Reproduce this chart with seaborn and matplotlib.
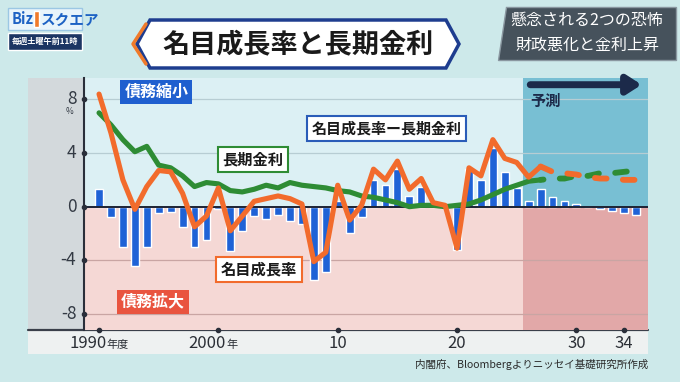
import matplotlib
matplotlib.use("Agg")
import matplotlib.pyplot as plt
import matplotlib.patches as mpatches
import seaborn as sns

# data (fiscal years 1990-2035, %)
years = list(range(1990, 2036))
nominal = [8.4, 5.5, 2.0, -0.2, 1.5, 2.7, 2.6, 1.0, -1.5, -0.7,
           1.4, -1.8, -0.7, 0.4, 0.6, 0.8, 0.6, 0.2, -4.1, -3.4,
           1.6, -1.0, 0.1, 2.8, 2.0, 3.4, 1.3, 2.1, 0.3, 0.1,
           -3.1, 2.9, 2.3, 5.0, 3.6, 3.3, 2.2, 3.0, 2.6, 2.5,
           2.4, 2.2, 2.1, 2.1, 2.0, 2.0]
long_rate = [7.0, 6.1, 5.0, 4.1, 4.5, 3.1, 2.9, 2.3, 1.5, 1.8,
             1.7, 1.2, 1.1, 1.3, 1.6, 1.4, 1.8, 1.6, 1.5, 1.4,
             1.2, 1.1, 0.8, 0.7, 0.5, 0.3, 0.0, 0.1, 0.1, 0.0,
             0.1, 0.2, 0.5, 0.9, 1.3, 1.6, 1.9, 2.0, 2.1, 2.1,
             2.3, 2.3, 2.5, 2.5, 2.6, 2.7]
spread = [1.3, -0.8, -3.0, -4.4, -3.0, -0.5, -0.4, -1.5, -3.0, -2.5,
          -0.2, -3.3, -1.8, -0.7, -0.9, -0.6, -1.1, -1.3, -5.5, -4.9,
          0.4, -2.0, -0.8, 2.0, 1.6, 2.8, 0.8, 1.5, 0.1, -0.1,
          -3.2, 2.8, 2.0, 4.4, 2.6, 1.4, 0.4, 1.3, 0.7, 0.4,
          0.2, 0.0, -0.2, -0.3, -0.5, -0.6]
last_actual = 2027          # solid up to here, dashed afterwards
forecast_start = 2025.5
yticks = [8, 4, 0, -4, -8]
xticks = [1990, 2000, 2010, 2020, 2030, 2034]
xnums = ["1990", "2000", "10", "20", "30", "34"]
xsuffix = ["年度", "年", "", "", "", ""]

sns.set_theme(style="white")
plt.rcParams['font.family'] = ['Noto Sans CJK JP', 'DejaVu Sans']

W, H = 680, 382
fig = plt.figure(figsize=(W / 100, H / 100), dpi=100)
fig.patch.set_facecolor('#cde9ea')

# background layer in pixel coordinates
bg = fig.add_axes([0, 0, 1, 1], zorder=0)
bg.set_xlim(0, W)
bg.set_ylim(H, 0)
bg.axis('off')

# logo
bg.add_patch(mpatches.Rectangle((8, 8), 74, 22, facecolor='#e8f4fb', edgecolor='#9cc7e4', lw=1))
bg.text(12, 19.5, "Biz", color='#1d62c4', fontsize=10.5, fontweight='bold', va='center')
bg.add_patch(mpatches.Rectangle((34, 11), 5, 16, facecolor='#f07a2a'))
bg.text(41, 19.5, "スクエア", color='#1d62c4', fontsize=10.5, fontweight='bold', va='center')
bg.add_patch(mpatches.Rectangle((8, 33), 74, 17, facecolor='#1c3563'))
bg.text(45, 41.5, "毎週土曜午前11時", color='white', fontsize=5.9, fontweight='bold',
        ha='center', va='center')

# title box
title_pts = [(137, 44), (150, 20), (446, 20), (459, 44), (446, 68), (150, 68)]
bg.add_patch(mpatches.Polygon(title_pts, closed=True, facecolor='white',
                              edgecolor='#1e3d8f', lw=2.5))
bg.plot([146, 133, 146], [24, 44, 64], color='#f07a2a', lw=2.5, solid_capstyle='round')
bg.text(298, 44, "名目成長率と長期金利", fontsize=19.5, fontweight='bold',
        color='#1a1a1a', ha='center', va='center')

# top-right box
bg.add_patch(mpatches.Polygon([(506, 7), (676, 7), (676, 60), (498, 60)], closed=True,
                              facecolor='#46525c', edgecolor='#8a97a0', lw=1))
bg.text(587, 20, "懸念される2つの恐怖", fontsize=11.5, color='white', ha='center', va='center')
bg.text(587, 45, "財政悪化と金利上昇", fontsize=11.5, color='white', ha='center', va='center')

# chart panel frame
bg.add_patch(mpatches.Rectangle((28, 78), 56, 252, facecolor='#d3d9dc', lw=0))
bg.add_patch(mpatches.Rectangle((28, 330), 620, 24, facecolor='#eef1f1', lw=0))
bg.plot([28, 648], [330, 330], color='#3a3f4a', lw=1.6)
bg.text(648, 365, "内閣府、Bloombergよりニッセイ基礎研究所作成", fontsize=7.6,
        color='#2b2b2b', ha='right', va='center')

# main chart axes
x0, x1, y0, y1 = 84, 648, 78, 330
ax = fig.add_axes([x0 / W, 1 - y1 / H, (x1 - x0) / W, (y1 - y0) / H], zorder=1)
xmin, xmax = 1988.74, 2036.0
ymin, ymax = -9.2, 9.6
ax.set_xlim(xmin, xmax)
ax.set_ylim(ymin, ymax)

# coloured zones
ax.fill_between([xmin, xmax], 0, ymax, color='#dcf0f4', lw=0, zorder=0)
ax.fill_between([xmin, xmax], ymin, 0, color='#f5d8d5', lw=0, zorder=0)
ax.fill_between([forecast_start, xmax], 0, ymax, color='#78bfd3', lw=0, zorder=0.1)
ax.fill_between([forecast_start, xmax], ymin, 0, color='#e2a8a8', lw=0, zorder=0.1)
for v in [4, 8]:
    ax.axhline(v, color='#b7cdd3', lw=0.9, zorder=0.2)
for v in [-4, -8]:
    ax.axhline(v, color='#c9a5a3', lw=0.9, zorder=0.2)

# bars: nominal growth minus long-term rate
sns.barplot(x=years, y=spread, native_scale=True, width=0.66, color='#1f62d6',
            saturation=1, ax=ax, zorder=2)
ax.axhline(0, color='#1c2233', lw=1.4, zorder=3)

# lines
solid = [i for i, y in enumerate(years) if y <= last_actual]
dash = [i for i, y in enumerate(years) if y >= last_actual]
sns.lineplot(x=[years[i] for i in solid], y=[long_rate[i] for i in solid], color='#2e8c34',
             lw=3.7, solid_capstyle='round', solid_joinstyle='round', ax=ax, zorder=4)
sns.lineplot(x=[years[i] for i in dash], y=[long_rate[i] for i in dash], color='#2e8c34',
             lw=4.2, linestyle=(1.5, (2.0, 2.8)), dash_capstyle='round', ax=ax, zorder=4)
sns.lineplot(x=[years[i] for i in solid], y=[nominal[i] for i in solid], color='#f26b2c',
             lw=3.7, solid_capstyle='round', solid_joinstyle='round', ax=ax, zorder=5)
sns.lineplot(x=[years[i] for i in dash], y=[nominal[i] for i in dash], color='#f26b2c',
             lw=4.2, linestyle=(0, (2.0, 2.8)), dash_capstyle='round', ax=ax, zorder=5)

# axes cosmetics
ax.set_xlabel("")
ax.set_ylabel("")
ax.set_xticks([])
ax.set_yticks([])
for s in ['top', 'right', 'bottom']:
    ax.spines[s].set_visible(False)
ax.spines['left'].set_color('#2a2f3a')
ax.spines['left'].set_linewidth(1.5)

# y tick labels and dots
for v in yticks:
    ax.annotate(str(v), xy=(0, v), xycoords=('axes fraction', 'data'), xytext=(-5.5, 0),
                textcoords='offset points', ha='right', va='center', fontsize=12.5,
                color='#333a44', annotation_clip=False)
ax.scatter([xmin] * len(yticks), yticks, s=9, color='#2a2f3a', clip_on=False, zorder=6)
ax.annotate("%", xy=(0, 8), xycoords=('axes fraction', 'data'), xytext=(-8, -9),
            textcoords='offset points', ha='right', va='center', fontsize=6,
            color='#333a44', annotation_clip=False)

# x tick labels and dots
for t, n, suf in zip(xticks, xnums, xsuffix):
    shift = 5.5 if suf else 0
    ax.annotate(n, xy=(t, 0), xycoords=('data', 'axes fraction'), xytext=(shift, -10),
                textcoords='offset points', ha='right' if suf else 'center', va='center',
                fontsize=12, color='#2b2f36', annotation_clip=False)
    if suf:
        ax.annotate(suf, xy=(t, 0), xycoords=('data', 'axes fraction'), xytext=(shift, -11),
                    textcoords='offset points', ha='left', va='center',
                    fontsize=8, color='#2b2f36', annotation_clip=False)
ax.scatter(xticks, [ymin] * len(xticks), s=9, color='#2a2f3a', clip_on=False, zorder=6)

# annotation labels
ax.text(1994.8, 8.55, "債務縮小", fontsize=11.5, fontweight='bold', color='white',
        ha='center', va='center', zorder=7,
        bbox=dict(boxstyle='square,pad=0.25', fc='#1f5fcf', ec='none'))
ax.text(1994.5, -7.1, "債務拡大", fontsize=11.5, fontweight='bold', color='white',
        ha='center', va='center', zorder=7,
        bbox=dict(boxstyle='square,pad=0.25', fc='#e9543f', ec='none'))
ax.text(2002.9, 3.5, "長期金利", fontsize=11, fontweight='bold', color='#1a1a1a',
        ha='center', va='center', zorder=7,
        bbox=dict(boxstyle='square,pad=0.3', fc='white', ec='#2e8c34', lw=1.5))
ax.text(2003.4, -4.7, "名目成長率", fontsize=11, fontweight='bold', color='#1a1a1a',
        ha='center', va='center', zorder=7,
        bbox=dict(boxstyle='square,pad=0.3', fc='white', ec='#f26b2c', lw=1.5))
ax.text(2014.1, 5.86, "名目成長率ー長期金利", fontsize=10.8, fontweight='bold',
        color='#1a1a1a', ha='center', va='center', zorder=7,
        bbox=dict(boxstyle='square,pad=0.3', fc='white', ec='#2a5cb8', lw=1.5))
ax.text(2027.4, 7.9, "予測", fontsize=11, fontweight='bold', color='#1c2a4a',
        ha='center', va='center', zorder=7)
ax.annotate("", xy=(2035.7, 9.1), xytext=(2025.9, 9.1), zorder=7,
            arrowprops=dict(arrowstyle='-|>,head_length=0.7,head_width=0.45',
                            color='#1c2a4a', lw=5))

fig.savefig("out.png", dpi=100, facecolor=fig.get_facecolor())
